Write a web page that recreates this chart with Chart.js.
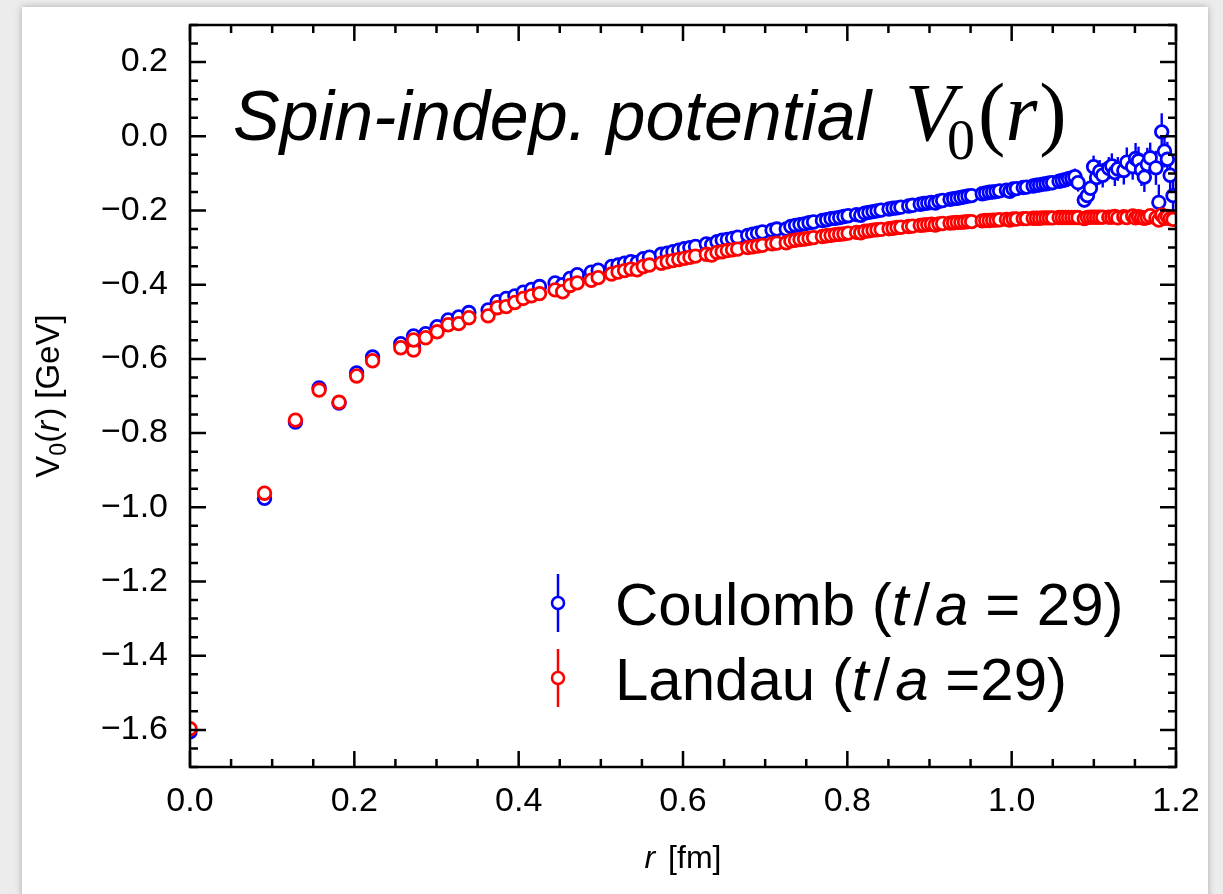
<!DOCTYPE html>
<html>
<head>
<meta charset="utf-8">
<script src="https://cdn.jsdelivr.net/npm/chart.js@4.4.0/dist/chart.umd.min.js"></script>
<style>
  html, body { margin: 0; padding: 0; width: 1223px; height: 894px; overflow: hidden; background: #ececec; }
  #card { position: absolute; left: 22px; top: 7px; width: 1186px; height: 940px; background: #fff;
          box-shadow: 0 0 7px rgba(0,0,0,0.28); }
  #wrap { position: absolute; left: 0; top: 0; width: 1223px; height: 894px; }
</style>
</head>
<body>
<div id="card"></div>
<div id="wrap"><canvas id="c" width="1223" height="894"></canvas></div>
<script>
// Quark-antiquark static potential V0(r) on the lattice, Coulomb vs Landau gauge.
// r in fm, V0 in GeV.
const radius = [
  0.0000, 0.0907, 0.1283, 0.1571, 0.1814, 0.2028, 0.2222, 0.2565, 0.2721, 0.2721,
  0.2868, 0.3008, 0.3142, 0.3270, 0.3394, 0.3628, 0.3740, 0.3848, 0.3954, 0.4056,
  0.4156, 0.4254, 0.4443, 0.4535, 0.4625, 0.4713, 0.4884, 0.4968, 0.5131, 0.5210,
  0.5289, 0.5366, 0.5442, 0.5517, 0.5591, 0.5736, 0.5808, 0.5878, 0.5948, 0.6016,
  0.6084, 0.6152, 0.6284, 0.6349, 0.6414, 0.6477, 0.6540, 0.6603, 0.6665, 0.6787,
  0.6848, 0.6907, 0.6967, 0.7084, 0.7142, 0.7256, 0.7313, 0.7369, 0.7424, 0.7479,
  0.7534, 0.7589, 0.7696, 0.7749, 0.7802, 0.7855, 0.7907, 0.7959, 0.8010, 0.8112,
  0.8163, 0.8213, 0.8263, 0.8313, 0.8362, 0.8411, 0.8508, 0.8557, 0.8605, 0.8652,
  0.8747, 0.8794, 0.8887, 0.8933, 0.8979, 0.9024, 0.9070, 0.9115, 0.9160, 0.9250,
  0.9294, 0.9338, 0.9382, 0.9426, 0.9469, 0.9513, 0.9642, 0.9684, 0.9727, 0.9769,
  0.9811, 0.9853, 0.9936, 0.9977, 1.0018, 1.0059, 1.0141, 1.0181, 1.0262, 1.0302,
  1.0341, 1.0381, 1.0421, 1.0460, 1.0499, 1.0577, 1.0616, 1.0655, 1.0693, 1.0732,
  1.0770, 1.0808, 1.0884, 1.0922, 1.0959, 1.0997, 1.1034, 1.1071, 1.1108, 1.1182,
  1.1219, 1.1256, 1.1292, 1.1365, 1.1401, 1.1473, 1.1508, 1.1544, 1.1580, 1.1615,
  1.1651, 1.1686, 1.1756, 1.1791, 1.1826, 1.1860, 1.1895, 1.1929, 1.1964
];

const coulomb = [
  -1.605, -0.976, -0.770, -0.678, -0.719, -0.638, -0.595, -0.559, -0.568, -0.538,
  -0.532, -0.513, -0.495, -0.487, -0.475, -0.468, -0.446, -0.437, -0.430, -0.420,
  -0.413, -0.405, -0.395, -0.400, -0.383, -0.373, -0.366, -0.361, -0.351, -0.347,
  -0.342, -0.338, -0.340, -0.330, -0.326, -0.318, -0.315, -0.311, -0.307, -0.303,
  -0.300, -0.297, -0.290, -0.292, -0.284, -0.280, -0.278, -0.275, -0.272, -0.267,
  -0.264, -0.261, -0.258, -0.253, -0.250, -0.250, -0.243, -0.240, -0.238, -0.236,
  -0.233, -0.231, -0.227, -0.225, -0.222, -0.221, -0.219, -0.216, -0.214, -0.211,
  -0.213, -0.207, -0.205, -0.203, -0.201, -0.199, -0.196, -0.194, -0.193, -0.191,
  -0.188, -0.186, -0.183, -0.181, -0.180, -0.178, -0.180, -0.175, -0.173, -0.170,
  -0.168, -0.167, -0.165, -0.163, -0.161, -0.160, -0.155, -0.153, -0.151, -0.150,
  -0.149, -0.147, -0.145, -0.148, -0.142, -0.141, -0.138, -0.137, -0.134, -0.132,
  -0.131, -0.129, -0.128, -0.126, -0.125, -0.121, -0.119, -0.117, -0.114, -0.112,
  -0.109, -0.125, -0.172, -0.160, -0.140, -0.082, -0.111, -0.095, -0.105, -0.086,
  -0.080, -0.098, -0.088, -0.092, -0.070, -0.082, -0.060, -0.066, -0.090, -0.110,
  -0.076, -0.058, -0.085, -0.178, 0.012, -0.040, -0.062, -0.105, -0.160
];

const coulombErr = [
  0.001, 0.001, 0.001, 0.001, 0.001, 0.001, 0.001, 0.001, 0.001, 0.001,
  0.002, 0.002, 0.002, 0.002, 0.002, 0.002, 0.002, 0.002, 0.002, 0.002,
  0.002, 0.002, 0.002, 0.002, 0.002, 0.002, 0.002, 0.002, 0.002, 0.002,
  0.002, 0.002, 0.002, 0.002, 0.002, 0.002, 0.002, 0.002, 0.002, 0.002,
  0.002, 0.002, 0.002, 0.002, 0.002, 0.002, 0.002, 0.002, 0.002, 0.002,
  0.002, 0.002, 0.002, 0.002, 0.002, 0.002, 0.002, 0.002, 0.002, 0.002,
  0.003, 0.003, 0.003, 0.003, 0.003, 0.003, 0.003, 0.003, 0.003, 0.003,
  0.004, 0.004, 0.004, 0.004, 0.004, 0.004, 0.004, 0.004, 0.004, 0.004,
  0.005, 0.005, 0.005, 0.005, 0.005, 0.005, 0.005, 0.005, 0.005, 0.005,
  0.006, 0.006, 0.006, 0.006, 0.006, 0.006, 0.006, 0.006, 0.006, 0.006,
  0.008, 0.008, 0.009, 0.009, 0.010, 0.010, 0.011, 0.011, 0.012, 0.012,
  0.013, 0.013, 0.014, 0.015, 0.015, 0.017, 0.018, 0.019, 0.020, 0.021,
  0.022, 0.024, 0.020, 0.026, 0.028, 0.030, 0.027, 0.031, 0.033, 0.030,
  0.034, 0.036, 0.032, 0.038, 0.040, 0.035, 0.042, 0.038, 0.044, 0.040,
  0.045, 0.041, 0.046, 0.048, 0.050, 0.044, 0.047, 0.052, 0.055
];

const landau = [
  -1.597, -0.962, -0.765, -0.684, -0.717, -0.646, -0.605, -0.570, -0.576, -0.549,
  -0.543, -0.527, -0.508, -0.505, -0.489, -0.484, -0.462, -0.459, -0.448, -0.437,
  -0.430, -0.424, -0.414, -0.419, -0.402, -0.395, -0.388, -0.381, -0.371, -0.366,
  -0.362, -0.358, -0.360, -0.351, -0.347, -0.342, -0.338, -0.335, -0.332, -0.329,
  -0.326, -0.323, -0.318, -0.320, -0.313, -0.311, -0.308, -0.306, -0.304, -0.300,
  -0.298, -0.296, -0.294, -0.290, -0.288, -0.287, -0.282, -0.280, -0.278, -0.277,
  -0.275, -0.273, -0.270, -0.268, -0.267, -0.265, -0.264, -0.263, -0.261, -0.259,
  -0.260, -0.256, -0.255, -0.253, -0.252, -0.251, -0.249, -0.248, -0.246, -0.245,
  -0.243, -0.242, -0.240, -0.239, -0.238, -0.237, -0.239, -0.236, -0.235, -0.234,
  -0.233, -0.232, -0.232, -0.231, -0.230, -0.230, -0.228, -0.227, -0.227, -0.226,
  -0.226, -0.225, -0.224, -0.226, -0.223, -0.223, -0.222, -0.222, -0.221, -0.221,
  -0.221, -0.220, -0.220, -0.220, -0.220, -0.219, -0.219, -0.219, -0.219, -0.219,
  -0.219, -0.219, -0.222, -0.219, -0.218, -0.218, -0.218, -0.218, -0.218, -0.218,
  -0.218, -0.216, -0.220, -0.217, -0.219, -0.215, -0.220, -0.217, -0.219, -0.221,
  -0.219, -0.214, -0.220, -0.226, -0.212, -0.221, -0.216, -0.222, -0.224
];

const landauErr = [
  0.001, 0.001, 0.001, 0.001, 0.001, 0.001, 0.001, 0.001, 0.001, 0.001,
  0.002, 0.002, 0.002, 0.002, 0.002, 0.002, 0.002, 0.002, 0.002, 0.002,
  0.002, 0.002, 0.002, 0.002, 0.002, 0.002, 0.002, 0.002, 0.002, 0.002,
  0.002, 0.002, 0.002, 0.002, 0.002, 0.002, 0.002, 0.002, 0.002, 0.002,
  0.002, 0.002, 0.002, 0.002, 0.002, 0.002, 0.002, 0.002, 0.002, 0.002,
  0.002, 0.002, 0.002, 0.002, 0.002, 0.002, 0.002, 0.002, 0.002, 0.002,
  0.002, 0.002, 0.002, 0.002, 0.002, 0.002, 0.002, 0.002, 0.002, 0.002,
  0.002, 0.002, 0.002, 0.002, 0.002, 0.002, 0.002, 0.002, 0.002, 0.002,
  0.002, 0.002, 0.002, 0.002, 0.002, 0.002, 0.002, 0.002, 0.002, 0.002,
  0.003, 0.003, 0.003, 0.003, 0.003, 0.003, 0.003, 0.003, 0.003, 0.003,
  0.003, 0.003, 0.003, 0.003, 0.003, 0.003, 0.003, 0.003, 0.003, 0.003,
  0.004, 0.004, 0.004, 0.004, 0.004, 0.004, 0.004, 0.004, 0.004, 0.004,
  0.005, 0.005, 0.006, 0.005, 0.006, 0.006, 0.006, 0.007, 0.007, 0.007,
  0.007, 0.008, 0.008, 0.008, 0.009, 0.009, 0.009, 0.010, 0.010, 0.010,
  0.011, 0.011, 0.012, 0.012, 0.012, 0.013, 0.013, 0.014, 0.014
];

const xTicks = [0.0, 0.2, 0.4, 0.6, 0.8, 1.0, 1.2];
const yTicks = [-1.6, -1.4, -1.2, -1.0, -0.8, -0.6, -0.4, -0.2, 0.0, 0.2];

const SANS = "'Liberation Sans', Arial, Helvetica, sans-serif";
const SERIF = "'Liberation Serif', 'Times New Roman', serif";
const BLUE = '#0000ff';
const RED = '#ff0000';

function fmtTick(v) {
  const s = Math.abs(v).toFixed(1);
  return v < -1e-9 ? '\u2212' + s : s;
}

// Draws a run of text pieces left to right; returns the end x.
function drawPieces(ctx, x, y, pieces) {
  for (const p of pieces) {
    ctx.font = p.font;
    x += p.gapL || 0;
    ctx.fillText(p.t, x, y + (p.dy || 0));
    x += ctx.measureText(p.t).width + (p.gapR || 0);
  }
  return x;
}
function piecesWidth(ctx, pieces) {
  let w = 0;
  for (const p of pieces) {
    ctx.font = p.font;
    w += (p.gapL || 0) + ctx.measureText(p.t).width + (p.gapR || 0);
  }
  return w;
}

const decorations = {
  id: 'decorations',
  beforeDatasetDraw(chart, args) {
    const ds = chart.data.datasets[args.index];
    const errs = ds.errors;
    if (!errs) return;
    const { ctx, chartArea: a } = chart;
    const ys = chart.scales.y;
    ctx.save();
    ctx.beginPath();
    ctx.rect(a.left, a.top, a.right - a.left, a.bottom - a.top);
    ctx.clip();
    ctx.strokeStyle = ds.borderColor;
    ctx.lineWidth = 2.4;
    args.meta.data.forEach((pt, i) => {
      const v = ds.data[i].y, e = errs[i];
      ctx.beginPath();
      ctx.moveTo(pt.x, ys.getPixelForValue(v - e));
      ctx.lineTo(pt.x, ys.getPixelForValue(v + e));
      ctx.stroke();
    });
    ctx.restore();
  },
  afterDraw(chart) {
    const { ctx, chartArea: a } = chart;
    const xs = chart.scales.x, ys = chart.scales.y;
    ctx.save();
    ctx.strokeStyle = '#000';
    ctx.fillStyle = '#000';
    ctx.lineWidth = 2.5;
    ctx.lineCap = 'butt';

    // frame
    ctx.strokeRect(a.left, a.top, a.right - a.left, a.bottom - a.top);

    // inward ticks on all four sides
    const MAJ = 16, MIN = 8;
    const isMajor = (v, list) => list.some(t => Math.abs(t - v) < 1e-6);
    ctx.beginPath();
    for (let k = 0; k <= 24; k++) {
      const v = k * 0.05;
      const len = isMajor(v, xTicks) ? MAJ : MIN;
      const px = xs.getPixelForValue(v);
      ctx.moveTo(px, a.bottom); ctx.lineTo(px, a.bottom - len);
      ctx.moveTo(px, a.top); ctx.lineTo(px, a.top + len);
    }
    for (let k = 0; k <= 40; k++) {
      const v = -1.7 + k * 0.05;
      const len = isMajor(v, yTicks) ? MAJ : MIN;
      const py = ys.getPixelForValue(v);
      ctx.moveTo(a.left, py); ctx.lineTo(a.left + len, py);
      ctx.moveTo(a.right, py); ctx.lineTo(a.right - len, py);
    }
    ctx.stroke();

    // x axis title: r [fm]
    ctx.textBaseline = 'alphabetic';
    const xt = [
      { t: 'r', font: `italic 32px ${SANS}` },
      { t: ' [fm]', font: `32px ${SANS}`, gapL: 4 }
    ];
    const cx = (a.left + a.right) / 2;
    drawPieces(ctx, cx - piecesWidth(ctx, xt) / 2, 868, xt);

    // y axis title: V0(r) [GeV]
    const yt = [
      { t: 'V', font: `33px ${SANS}` },
      { t: '0', font: `23px ${SANS}`, dy: 7 },
      { t: '(', font: `33px ${SANS}` },
      { t: 'r', font: `italic 33px ${SANS}` },
      { t: ') [GeV]', font: `33px ${SANS}`, gapL: 2 }
    ];
    ctx.save();
    ctx.translate(59, (a.top + a.bottom) / 2);
    ctx.rotate(-Math.PI / 2);
    drawPieces(ctx, -piecesWidth(ctx, yt) / 2, 0, yt);
    ctx.restore();

    // panel heading
    ctx.font = `italic 70px ${SANS}`;
    ctx.fillText('Spin-indep. potential', 233, 140);
    drawPieces(ctx, 905, 140, [
      { t: 'V', font: `italic 82px ${SERIF}`, gapR: -8 },
      { t: '0', font: `56px ${SERIF}`, dy: 19, gapR: 3 },
      { t: '(', font: `82px ${SERIF}` },
      { t: 'r', font: `italic 82px ${SERIF}`, gapR: 2 },
      { t: ')', font: `82px ${SERIF}` }
    ]);

    // legend
    const rows = [
      { color: BLUE, y: 603, pieces: [
        { t: 'Coulomb (', font: `60px ${SANS}` },
        { t: 't', font: `italic 60px ${SANS}`, gapR: 5 },
        { t: '/', font: `60px ${SANS}`, gapR: 5 },
        { t: 'a', font: `italic 60px ${SANS}` },
        { t: ' = 29)', font: `60px ${SANS}` }
      ] },
      { color: RED, y: 678, pieces: [
        { t: 'Landau (', font: `60px ${SANS}` },
        { t: 't', font: `italic 60px ${SANS}`, gapR: 5 },
        { t: '/', font: `60px ${SANS}`, gapR: 5 },
        { t: 'a', font: `italic 60px ${SANS}` },
        { t: ' =29)', font: `60px ${SANS}` }
      ] }
    ];
    for (const r of rows) {
      ctx.strokeStyle = r.color;
      ctx.lineWidth = 2.5;
      ctx.beginPath();
      ctx.moveTo(558, r.y - 29); ctx.lineTo(558, r.y + 29);
      ctx.stroke();
      ctx.beginPath();
      ctx.arc(558, r.y, 6, 0, Math.PI * 2);
      ctx.fillStyle = '#fff';
      ctx.fill();
      ctx.stroke();
      ctx.fillStyle = '#000';
      drawPieces(ctx, 615, r.y + 22, r.pieces);
    }
    ctx.restore();
  }
};

const pointStyle = {
  pointRadius: 6.3,
  pointBorderWidth: 2.8,
  pointBackgroundColor: '#fff',
  pointStyle: 'circle',
  showLine: false,
  clip: 0
};

new Chart(document.getElementById('c'), {
  type: 'scatter',
  data: {
    datasets: [
      Object.assign({
        label: 'Coulomb (t/a = 29)',
        data: radius.map((r, i) => ({ x: r, y: coulomb[i] })),
        errors: coulombErr,
        borderColor: BLUE,
        pointBorderColor: BLUE,
        order: 2
      }, pointStyle),
      Object.assign({
        label: 'Landau (t/a =29)',
        data: radius.map((r, i) => ({ x: r, y: landau[i] })),
        errors: landauErr,
        borderColor: RED,
        pointBorderColor: RED,
        order: 1
      }, pointStyle)
    ]
  },
  options: {
    responsive: false,
    animation: false,
    devicePixelRatio: 1,
    layout: { padding: { top: 25, right: 47, left: 0, bottom: 0 } },
    plugins: { legend: { display: false }, tooltip: { enabled: false } },
    scales: {
      x: {
        type: 'linear', position: 'bottom', min: 0, max: 1.2,
        grid: { display: false, drawTicks: false },
        border: { display: false },
        ticks: { padding: 14, color: '#000', font: { family: SANS, size: 34 }, maxRotation: 0,
                 callback: v => fmtTick(v) },
        afterBuildTicks: s => { s.ticks = xTicks.map(v => ({ value: v })); },
        afterFit: s => { s.height = 127; s.paddingLeft = 0; s.paddingRight = 0; }
      },
      y: {
        type: 'linear', position: 'left', min: -1.7, max: 0.3,
        grid: { display: false, drawTicks: false },
        border: { display: false },
        ticks: { padding: 22, color: '#000', font: { family: SANS, size: 34 },
                 callback: v => fmtTick(v) },
        afterBuildTicks: s => { s.ticks = yTicks.map(v => ({ value: v })); },
        afterFit: s => { s.width = 190; s.paddingTop = 0; s.paddingBottom = 0; }
      }
    }
  },
  plugins: [decorations]
});
</script>
</body>
</html>
